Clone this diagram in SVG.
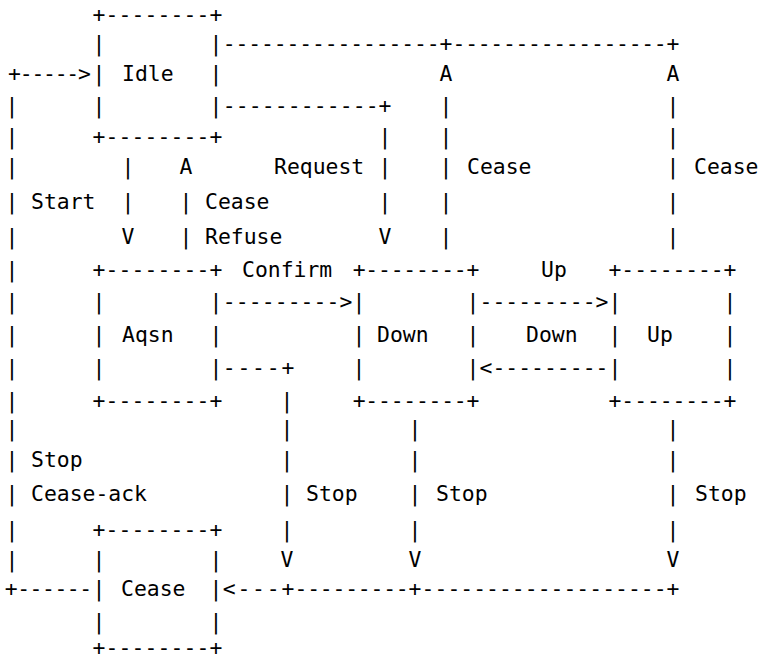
<svg xmlns="http://www.w3.org/2000/svg" width="767" height="666" viewBox="0 0 767 666">
<style>
.t{font-family:"DejaVu Sans Mono","Liberation Mono",monospace;font-size:21.4px;fill:#000;white-space:pre}
.c{text-anchor:middle}
</style>
<rect width="767" height="666" fill="#fff"/>
<g id="node-idle">
<text class="t" x="92.5" y="22" textLength="130" lengthAdjust="spacing">+--------+</text>
<text class="t c" x="99" y="51">|</text><text class="t c" x="216" y="51">|</text>
<text class="t c" x="99" y="81">|</text><text class="t" x="122" y="81">Idle</text><text class="t c" x="216" y="81">|</text>
<text class="t c" x="99" y="113">|</text><text class="t c" x="216" y="113">|</text>
<text class="t" x="92.5" y="144" textLength="130" lengthAdjust="spacing">+--------+</text>
</g>
<g id="node-aqsn">
<text class="t" x="92.5" y="277" textLength="130" lengthAdjust="spacing">+--------+</text>
<text class="t c" x="99" y="309">|</text><text class="t c" x="216" y="309">|</text>
<text class="t c" x="99" y="342">|</text><text class="t" x="122" y="342">Aqsn</text><text class="t c" x="216" y="342">|</text>
<text class="t c" x="99" y="375">|</text><text class="t c" x="216" y="375">|</text>
<text class="t" x="92.5" y="408" textLength="130" lengthAdjust="spacing">+--------+</text>
</g>
<g id="node-down">
<text class="t" x="352.7" y="277" textLength="126.7" lengthAdjust="spacing">+--------+</text>
<text class="t c" x="359" y="309">|</text><text class="t c" x="473" y="309">|</text>
<text class="t c" x="359" y="342">|</text><text class="t" x="377" y="342">Down</text><text class="t c" x="473" y="342">|</text>
<text class="t c" x="359" y="375">|</text><text class="t c" x="473" y="375">|</text>
<text class="t" x="352.7" y="408" textLength="126.7" lengthAdjust="spacing">+--------+</text>
</g>
<g id="node-up">
<text class="t" x="608.6" y="277" textLength="127.8" lengthAdjust="spacing">+--------+</text>
<text class="t c" x="615" y="309">|</text><text class="t c" x="730" y="309">|</text>
<text class="t c" x="615" y="342">|</text><text class="t" x="647" y="342">Up</text><text class="t c" x="730" y="342">|</text>
<text class="t c" x="615" y="375">|</text><text class="t c" x="730" y="375">|</text>
<text class="t" x="608.6" y="408" textLength="127.8" lengthAdjust="spacing">+--------+</text>
</g>
<g id="node-cease">
<text class="t" x="92.5" y="537" textLength="130" lengthAdjust="spacing">+--------+</text>
<text class="t c" x="99" y="567">|</text><text class="t c" x="216" y="567">|</text>
<text class="t c" x="99" y="596">|</text><text class="t" x="121" y="596">Cease</text><text class="t c" x="216" y="596">|</text>
<text class="t c" x="99" y="629">|</text><text class="t c" x="216" y="629">|</text>
<text class="t" x="92.5" y="655" textLength="130" lengthAdjust="spacing">+--------+</text>
</g>
<g id="connectors">
<text class="t" x="222.8" y="51" textLength="229.6" lengthAdjust="spacing">-----------------+</text>
<text class="t" x="452.6" y="51" textLength="226.7" lengthAdjust="spacing">-----------------+</text>
<text class="t c" x="446" y="81">A</text><text class="t c" x="673" y="81">A</text>
<text class="t c" x="446" y="113">|</text><text class="t c" x="673" y="113">|</text>
<text class="t c" x="446" y="144">|</text><text class="t c" x="673" y="144">|</text>
<text class="t c" x="446" y="174">|</text><text class="t c" x="673" y="174">|</text>
<text class="t c" x="446" y="209">|</text><text class="t c" x="673" y="209">|</text>
<text class="t c" x="446" y="244">|</text><text class="t c" x="673" y="244">|</text>
<text class="t" x="8.1" y="81" textLength="82.8" lengthAdjust="spacing">+-----&gt;</text>
<text class="t c" x="12" y="113">|</text>
<text class="t c" x="12" y="144">|</text>
<text class="t c" x="12" y="174">|</text>
<text class="t c" x="12" y="209">|</text>
<text class="t c" x="12" y="244">|</text>
<text class="t c" x="12" y="277">|</text>
<text class="t c" x="12" y="309">|</text>
<text class="t c" x="12" y="342">|</text>
<text class="t c" x="12" y="375">|</text>
<text class="t c" x="12" y="408">|</text>
<text class="t c" x="12" y="436">|</text>
<text class="t c" x="12" y="467">|</text>
<text class="t c" x="12" y="501">|</text>
<text class="t c" x="12" y="537">|</text>
<text class="t c" x="12" y="567">|</text>
<text class="t" x="4.7" y="596" textLength="87.5" lengthAdjust="spacing">+------</text>
<text class="t" x="222.8" y="113" textLength="168.7" lengthAdjust="spacing">------------+</text>
<text class="t c" x="385" y="144">|</text>
<text class="t c" x="385" y="174">|</text>
<text class="t c" x="385" y="209">|</text>
<text class="t c" x="385" y="244">V</text>
<text class="t c" x="128" y="174">|</text>
<text class="t c" x="128" y="209">|</text>
<text class="t c" x="128" y="244">V</text>
<text class="t c" x="186" y="174">A</text>
<text class="t c" x="186" y="209">|</text>
<text class="t c" x="186" y="244">|</text>
<text class="t" x="222.8" y="309" textLength="129.6" lengthAdjust="spacing">---------&gt;</text>
<text class="t" x="479.6" y="309" textLength="128.8" lengthAdjust="spacing">---------&gt;</text>
<text class="t" x="479.6" y="375" textLength="128.8" lengthAdjust="spacing">&lt;---------</text>
<text class="t" x="222.8" y="375" textLength="71.5" lengthAdjust="spacing">----+</text>
<text class="t c" x="287" y="408">|</text>
<text class="t c" x="287" y="436">|</text>
<text class="t c" x="287" y="467">|</text>
<text class="t c" x="287" y="501">|</text>
<text class="t c" x="287" y="537">|</text>
<text class="t c" x="287" y="567">V</text>
<text class="t c" x="415" y="436">|</text>
<text class="t c" x="415" y="467">|</text>
<text class="t c" x="415" y="501">|</text>
<text class="t c" x="415" y="537">|</text>
<text class="t c" x="415" y="567">V</text>
<text class="t c" x="673" y="436">|</text>
<text class="t c" x="673" y="467">|</text>
<text class="t c" x="673" y="501">|</text>
<text class="t c" x="673" y="537">|</text>
<text class="t c" x="673" y="567">V</text>
<text class="t" x="222.8" y="596" textLength="71.5" lengthAdjust="spacing">&lt;---+</text>
<text class="t" x="294.5" y="596" textLength="126.9" lengthAdjust="spacing">---------+</text>
<text class="t" x="421.6" y="596" textLength="257.9" lengthAdjust="spacing">-------------------+</text>
</g>
<g id="edge-labels">
<text class="t" x="31" y="209">Start</text>
<text class="t" x="31" y="467">Stop</text>
<text class="t" x="31" y="501">Cease-ack</text>
<text class="t" x="274" y="174">Request</text>
<text class="t" x="205" y="209">Cease</text>
<text class="t" x="205" y="244">Refuse</text>
<text class="t" x="467" y="174">Cease</text>
<text class="t" x="694" y="174">Cease</text>
<text class="t" x="242" y="277">Confirm</text>
<text class="t" x="541" y="277">Up</text>
<text class="t" x="526" y="342">Down</text>
<text class="t" x="306" y="501">Stop</text>
<text class="t" x="436" y="501">Stop</text>
<text class="t" x="695" y="501">Stop</text>
</g>
</svg>
